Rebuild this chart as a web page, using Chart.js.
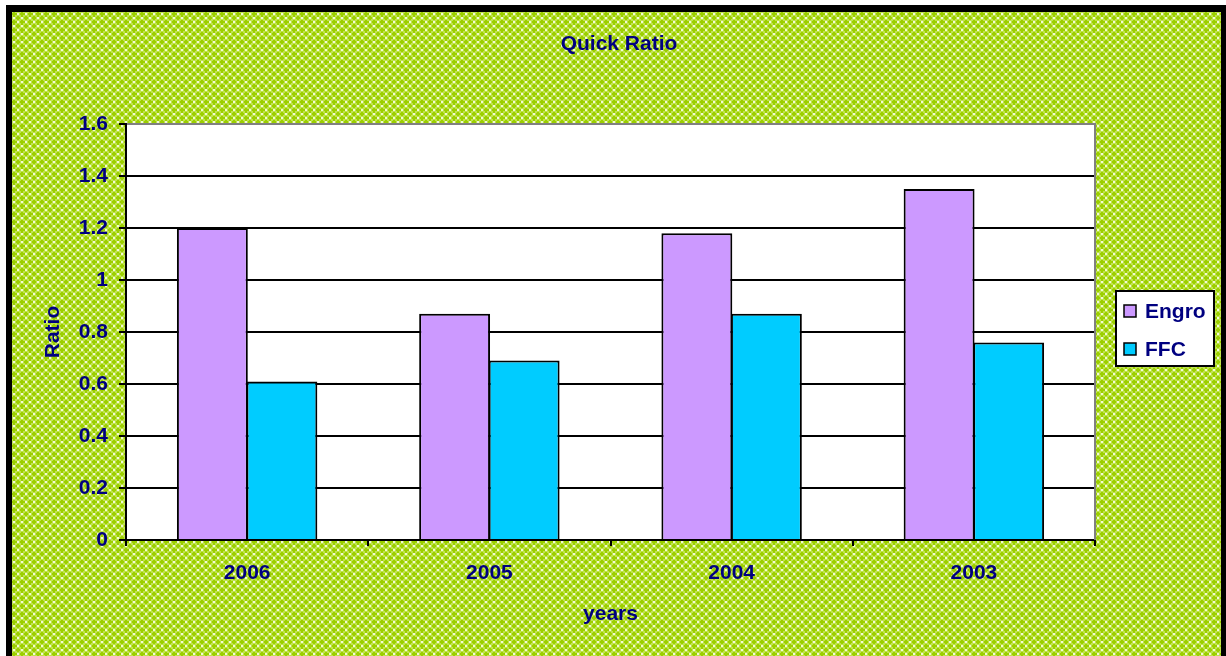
<!DOCTYPE html>
<html>
<head>
<meta charset="utf-8">
<title>Quick Ratio</title>
<script src="https://cdn.jsdelivr.net/npm/chart.js@4.4.1/dist/chart.umd.min.js"></script>
<style>
    html, body { margin: 0; padding: 0; background: #fff; }
    #wrap { width: 1226px; height: 656px; position: relative; }
</style>
</head>
<body>
<div id="wrap"><canvas id="chart" width="1226" height="656"></canvas></div>
<script>
/* ============================================================
   Quick Ratio — Engro vs FFC, grouped bars
   ============================================================ */
var categories = ['2006', '2005', '2004', '2003'];
var engroValues = [1.20, 0.87, 1.18, 1.35];
var ffcValues = [0.61, 0.69, 0.87, 0.76];
var seriesNames = ['Engro', 'FFC'];
var seriesColors = ['#cc99ff', '#00ccff'];
var yMin = 0, yMax = 1.6, yStep = 0.2;

(function () {
    'use strict';

    var NAVY = '#000080';
    var FONT = 'Arial, "Liberation Sans", sans-serif';

    /** Small tile giving the green "diamond" fill of the outer area. */
    function makePattern(ctx) {
        var t = document.createElement('canvas');
        t.width = 8; t.height = 8;
        var c = t.getContext('2d');
        c.fillStyle = '#c0e350';
        c.fillRect(0, 0, 8, 8);
        c.fillStyle = '#9ccf00';
        [[1, 1], [5, 5]].forEach(function (p) {
            c.fillRect(p[0], p[1] - 1, 2, 4);
            c.fillRect(p[0] - 1, p[1], 4, 2);
        });
        c.fillRect(5, 0, 2, 1); c.fillRect(5, 7, 2, 1);
        c.fillRect(0, 5, 1, 2); c.fillRect(7, 5, 1, 2);
        c.fillStyle = '#f2fad8';
        c.fillRect(5, 1, 2, 2);
        c.fillRect(1, 5, 2, 2);
        return ctx.createPattern(t, 'repeat');
    }

    // ------------------------------------------------------------------
    // Frame, title, legend — drawn around the chart area
    // ------------------------------------------------------------------
    var framePlugin = {
        id: 'frame',
        beforeDraw: function (chart) {
            var ctx = chart.ctx, a = chart.chartArea;
            ctx.save();
            ctx.fillStyle = '#fff';
            ctx.fillRect(0, 0, chart.width, chart.height);
            ctx.fillStyle = makePattern(ctx);
            ctx.fillRect(12, 12, 1209, chart.height - 12);
            ctx.fillStyle = '#000';
            ctx.fillRect(6, 5, 6, chart.height - 5);
            ctx.fillRect(6, 5, 1220, 7);
            ctx.fillRect(1221, 5, 5, chart.height - 5);
            ctx.fillStyle = '#fff';
            ctx.fillRect(a.left, a.top, a.right - a.left, a.bottom - a.top);
            ctx.restore();
        },
        afterDraw: function (chart) {
            var ctx = chart.ctx, a = chart.chartArea;
            ctx.save();
            // right plot border
            ctx.strokeStyle = '#808080';
            ctx.lineWidth = 2;
            ctx.beginPath();
            ctx.moveTo(a.right, a.top - 1);
            ctx.lineTo(a.right, a.bottom);
            ctx.stroke();

            // title
            ctx.fillStyle = NAVY;
            ctx.font = 'bold 21px ' + FONT;
            ctx.textAlign = 'center';
            ctx.textBaseline = 'middle';
            ctx.fillText('Quick Ratio', 619, 44);

            // legend
            ctx.fillStyle = '#fff';
            ctx.fillRect(1116, 291, 98, 75);
            ctx.strokeStyle = '#000';
            ctx.lineWidth = 2;
            ctx.strokeRect(1116, 291, 98, 75);
            chart.data.datasets.forEach(function (ds, i) {
                var y = 311 + i * 38;
                ctx.fillStyle = ds.backgroundColor;
                ctx.fillRect(1124, y - 6, 12, 12);
                ctx.lineWidth = 1.5;
                ctx.strokeStyle = '#000';
                ctx.strokeRect(1124, y - 6, 12, 12);
                ctx.fillStyle = NAVY;
                ctx.textAlign = 'left';
                ctx.fillText(ds.label, 1145, y + 1);
            });
            ctx.restore();
        }
    };

    var datasets = [engroValues, ffcValues].map(function (vals, i) {
        return {
            label: seriesNames[i],
            data: vals,
            backgroundColor: seriesColors[i],
            borderColor: '#000',
            borderWidth: 2,
            categoryPercentage: 0.574,
            barPercentage: 1.02
        };
    });

    new Chart(document.getElementById('chart'), {
        type: 'bar',
        data: { labels: categories, datasets: datasets },
        plugins: [framePlugin],
        options: {
            responsive: false,
            animation: false,
            layout: { padding: { top: 124, right: 131, bottom: 0, left: 0 } },
            plugins: {
                legend: { display: false },
                title: { display: false },
                tooltip: { enabled: false }
            },
            scales: {
                x: {
                    afterFit: function (s) { s.height = 116; },
                    grid: { offset: true, drawOnChartArea: false, color: '#000', lineWidth: 2, tickLength: 6 },
                    border: { color: '#000', width: 2 },
                    ticks: { color: NAVY, padding: 15, font: { family: FONT, size: 21, weight: 'bold' } },
                    title: {
                        display: true, text: 'years', color: NAVY,
                        font: { family: FONT, size: 21, weight: 'bold' },
                        padding: { top: 0, bottom: 29 }
                    }
                },
                y: {
                    min: yMin, max: yMax,
                    afterFit: function (s) { s.width = 126; },
                    grid: {
                        color: function (c) { return c.tick && c.tick.value > yMax - 1e-6 ? '#808080' : '#000'; },
                        tickColor: '#000', lineWidth: 2, tickLength: 7
                    },
                    border: { color: '#000', width: 2 },
                    ticks: {
                        stepSize: yStep, color: NAVY, padding: 11,
                        font: { family: FONT, size: 21, weight: 'bold' },
                        callback: function (v) { return String(Math.round(v * 10) / 10); }
                    },
                    title: {
                        display: true, text: 'Ratio', color: NAVY,
                        font: { family: FONT, size: 21, weight: 'bold' },
                        padding: { top: 41, bottom: 0 }
                    }
                }
            }
        }
    });
})();
</script>
</body>
</html>
